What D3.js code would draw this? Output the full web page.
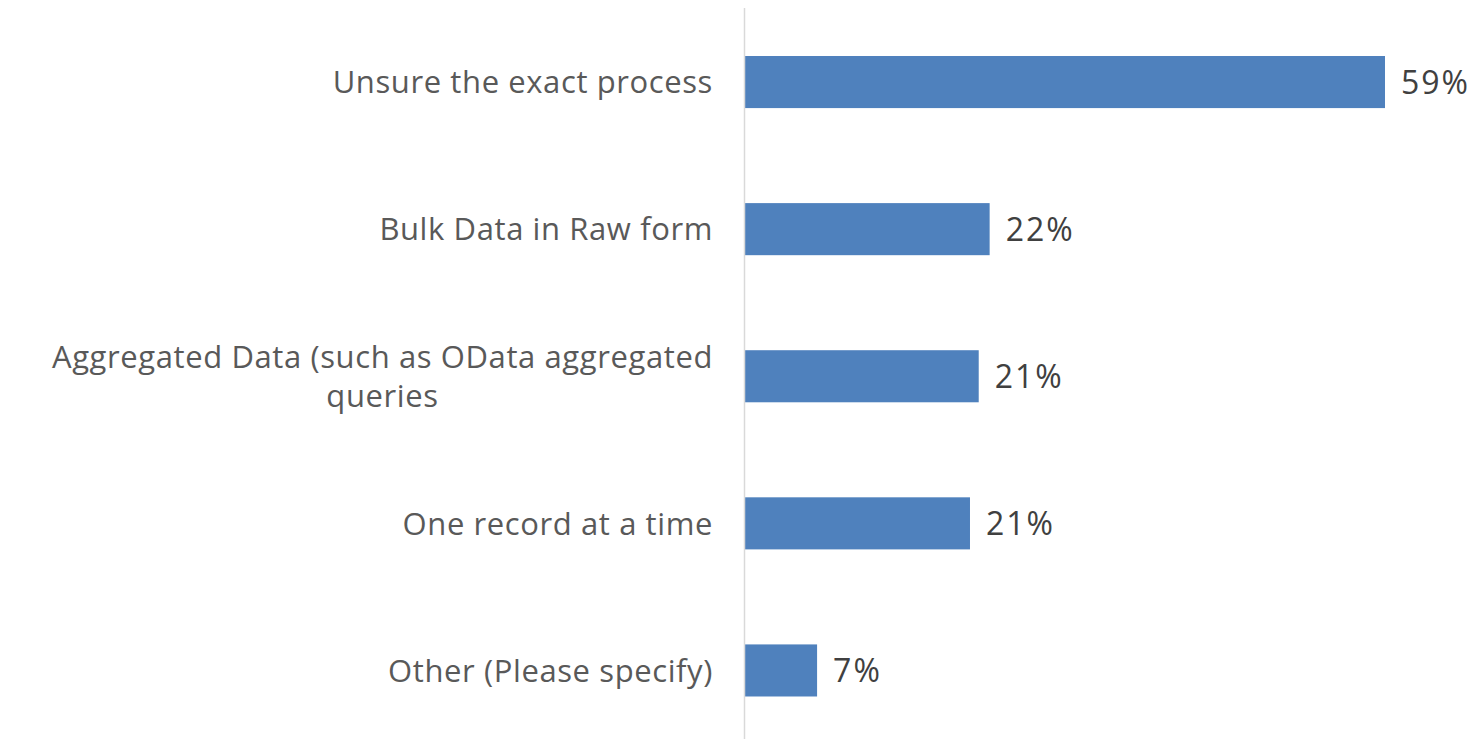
<!DOCTYPE html>
<html>
<head>
<meta charset="utf-8">
<script src="https://cdn.jsdelivr.net/npm/d3@7"></script>
<style>
  body { margin: 0; background: #fff; }
  svg { display: block; }
</style>
</head>
<body>
<svg id="canvas" width="1484" height="739"></svg>
<script>
// survey answers, top to bottom
var categories = [
  ["Unsure the exact process"],
  ["Bulk Data in Raw form"],
  ["Aggregated Data (such as OData aggregated", "queries"],
  ["One record at a time"],
  ["Other (Please specify)"]
];
var values = [58.6, 22.4, 21.4, 20.6, 6.6]; // percent
var valueLabels = ["59%", "22%", "21%", "21%", "7%"];

var svg = d3.select("#canvas");
var axisX = 745;

var y = d3.scaleBand()
  .domain(d3.range(values.length))
  .range([8.5, 744])
  .paddingInner(0.646)
  .paddingOuter(0.323);

var x = d3.scaleLinear()
  .domain([0, d3.max(values)])
  .range([axisX, 1385]);

// bars
svg.selectAll(".bar")
  .data(values)
  .enter()
  .append("rect")
  .attr("class", "bar")
  .attr("x", x(0))
  .attr("y", function(d, i) { return y(i); })
  .attr("width", function(d) { return x(d) - x(0); })
  .attr("height", y.bandwidth())
  .attr("fill", "#4f81bd");

// vertical axis line
svg.append("line")
  .attr("x1", axisX - 0.5).attr("x2", axisX - 0.5)
  .attr("y1", 8).attr("y2", 739)
  .attr("stroke", "#d9d9d9")
  .attr("stroke-width", 1.5);

// value labels
svg.selectAll(".val")
  .data(values)
  .enter()
  .append("text")
  .attr("class", "val")
  .attr("x", function(d) { return x(d) + 16; })
  .attr("y", function(d, i) { return y(i) + y.bandwidth() / 2; })
  .attr("dy", "0.36em")
  .attr("font-family", "Open Sans")
  .attr("font-size", 32)
  .attr("letter-spacing", 2)
  .attr("fill", "#404040")
  .text(function(d, i) { return valueLabels[i]; });

// category labels (multi-line ones are centred on their longest line)
var lineGap = 39;
var labelRight = 713;
categories.forEach(function(lines, i) {
  var cy = y(i) + y.bandwidth() / 2;
  var g = svg.append("g").attr("class", "cat");
  var texts = lines.map(function(line, j) {
    return g.append("text")
      .attr("y", cy + (j - (lines.length - 1) / 2) * lineGap)
      .attr("dy", "0.36em")
      .attr("font-family", "Open Sans")
      .attr("font-size", 31)
      .attr("letter-spacing", 0.6)
      .attr("fill", "#595959")
      .attr("text-anchor", "middle")
      .text(line);
  });
  var maxW = d3.max(texts, function(t) { return t.node().getComputedTextLength(); });
  texts.forEach(function(t) { t.attr("x", labelRight - maxW / 2); });
});
</script>
</body>
</html>
